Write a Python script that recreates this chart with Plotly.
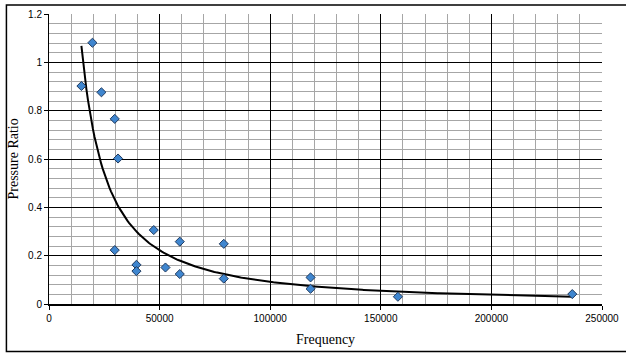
import numpy as np
import plotly.graph_objects as go

frequency = [14650, 19630, 23700, 29720, 31210, 29720, 39530, 39530, 47360,
             52650, 59120, 59120, 79020, 79020, 118240, 118240, 157730, 236560]
pressure_ratio = [0.902, 1.081, 0.876, 0.766, 0.602, 0.223, 0.162, 0.136, 0.306,
                  0.151, 0.258, 0.124, 0.249, 0.105, 0.110, 0.063, 0.030, 0.041]

x_ticks = [0, 50000, 100000, 150000, 200000, 250000]
y_ticks = [0, 0.2, 0.4, 0.6, 0.8, 1, 1.2]
y_tick_labels = ["0", "0.2", "0.4", "0.6", "0.8", "1", "1.2"]

# Power trendline (least squares in log-log space, as a spreadsheet does)
fx = np.array(frequency, dtype=float)
fy = np.array(pressure_ratio, dtype=float)
b, ln_a = np.polyfit(np.log(fx), np.log(fy), 1)
trend_x = np.linspace(fx.min(), fx.max(), 300)
trend_y = np.exp(ln_a) * trend_x ** b

fig = go.Figure()
fig.add_trace(go.Scatter(
    x=trend_x, y=trend_y, mode="lines",
    line=dict(color="black", width=2), hoverinfo="skip", showlegend=False))
fig.add_trace(go.Scatter(
    x=frequency, y=pressure_ratio, mode="markers",
    marker=dict(symbol="diamond", size=7, color="#3F86CF",
                line=dict(color="#1F3A5F", width=1)),
    showlegend=False))

serif = "Liberation Serif, Times New Roman, serif"
fig.update_layout(
    width=626, height=353,
    margin=dict(l=49, r=24, t=14, b=49),
    paper_bgcolor="white", plot_bgcolor="white",
    font=dict(family="Liberation Sans, Arial, sans-serif", size=10, color="black"),
    xaxis=dict(
        range=[0, 250000], tickvals=x_ticks, ticktext=[str(v) for v in x_ticks],
        showgrid=True, gridcolor="black", gridwidth=1,
        minor=dict(dtick=10000, showgrid=True, gridcolor="#a6a6a6", gridwidth=1),
        showline=True, linecolor="black", linewidth=2,
        ticks="outside", ticklen=4, tickcolor="black",
        zeroline=False, automargin=False,
    ),
    yaxis=dict(
        range=[0, 1.2], tickvals=y_ticks, ticktext=y_tick_labels,
        showgrid=True, gridcolor="black", gridwidth=1,
        minor=dict(dtick=0.04, showgrid=True, gridcolor="#a6a6a6", gridwidth=1),
        showline=True, linecolor="black", linewidth=1,
        ticks="outside", ticklen=4, tickcolor="black",
        zeroline=False, automargin=False,
    ),
    annotations=[
        dict(text="Frequency", xref="paper", yref="paper", x=0.5, y=-0.121,
             xanchor="center", yanchor="middle", showarrow=False,
             font=dict(family=serif, size=14)),
        dict(text="Pressure Ratio", xref="paper", yref="paper", x=-0.066, y=0.5,
             xanchor="center", yanchor="middle", showarrow=False, textangle=-90,
             font=dict(family=serif, size=14)),
    ],
    shapes=[dict(type="rect", xref="paper", yref="paper",
                 x0=-0.077, x1=1.06, y0=-0.164, y1=1.031,
                 line=dict(color="black", width=1.5), layer="below")],
)

fig.write_html("out.html", config={"displayModeBar": False},
               post_script="document.body.style.margin='0';document.body.style.overflow='hidden';")
